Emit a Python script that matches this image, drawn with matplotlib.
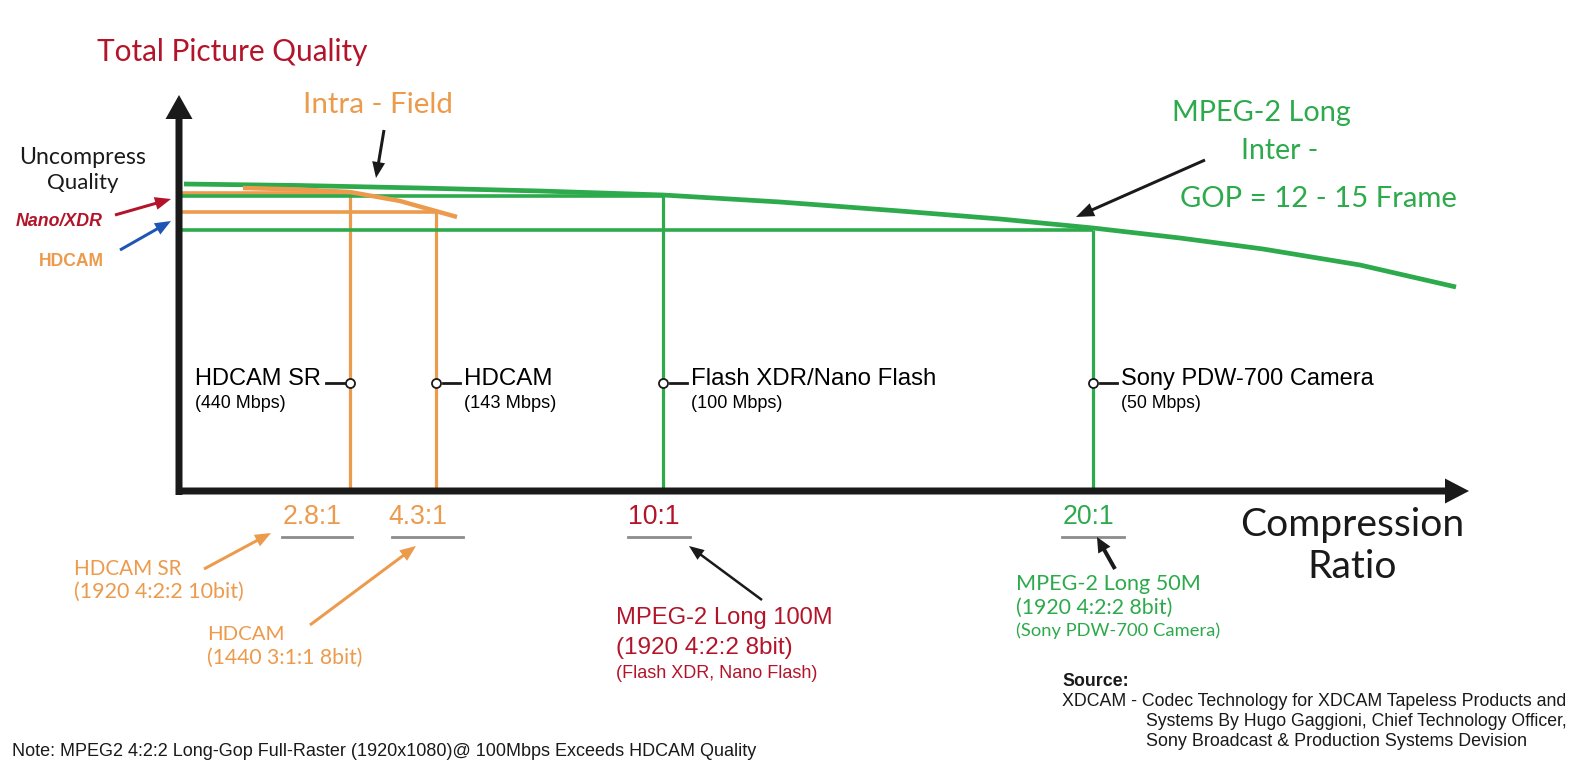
import matplotlib
matplotlib.use("Agg")
import matplotlib.pyplot as plt

# ---------------- data (schematic units: x = distance along compression axis, q = quality height) ----
ratio_labels = ["2.8:1", "4.3:1", "10:1", "20:1"]
codec_names = ["HDCAM SR", "HDCAM", "Flash XDR/Nano Flash", "Sony PDW-700 Camera"]
codec_rates = ["(440 Mbps)", "(143 Mbps)", "(100 Mbps)", "(50 Mbps)"]
codec_pos = [171, 257, 484, 914]          # position on the compression axis
codec_quality = [298, 279, 295, 261]      # picture quality level
codec_family = ["intra", "intra", "gop", "gop"]

gop_x = [5, 121, 241, 361, 484, 601, 721, 821, 914, 1001, 1084, 1181, 1277]
gop_q = [307, 305.5, 303, 300, 296, 289, 280, 272, 263, 253, 242, 226, 204]

intra_x = [64, 121, 171, 221, 278]
intra_q = [303, 301.5, 299, 290, 274]

ORANGE = "#EC9A4C"
GREEN = "#2DAA4C"
RED = "#B3142A"
BLUE = "#1F56B5"
GRAY = "#8C8C8C"
BLACK = "#1A1A1A"
fam_color = {"intra": ORANGE, "gop": GREEN}
ratio_colors = [ORANGE, ORANGE, RED, GREEN]

GEO = "Lato"
ARI = "Liberation Sans"

fig = plt.figure(figsize=(15.9, 7.71), dpi=100)
ax = fig.add_axes([0, 0, 1, 1])
ax.set_xlim(-179, 1411)
ax.set_ylim(-280, 491)
ax.axis("off")
renderer = fig.canvas.get_renderer()


def P(px, py):
    return px - 179, 491 - py


def label(px, py, s, width, ha="left", family=ARI, **kw):
    x, y = P(px, py)
    t = ax.text(x, y, s, ha=ha, va="center", fontsize=10, family=family, **kw)
    w = t.get_window_extent(renderer).width
    t.set_fontsize(10 * width / w)
    return t


def arrow(tail, tip, color, width, hw, hl):
    x0, y0 = P(*tail)
    x1, y1 = P(*tip)
    ax.arrow(x0, y0, x1 - x0, y1 - y0, width=width, head_width=hw, head_length=hl,
             length_includes_head=True, color=color, lw=0, zorder=6)


# ---------------- level lines ----------------
for xp, q, fam in zip(codec_pos, codec_quality, codec_family):
    c = fam_color[fam]
    ax.plot([3, xp], [q, q], color=c, lw=2.6, solid_capstyle="butt", zorder=2)
    ax.plot([xp, xp], [0, q], color=c, lw=2.3, solid_capstyle="butt", zorder=2)

# curves
ax.plot(gop_x, gop_q, color=GREEN, lw=3.4, solid_capstyle="butt", solid_joinstyle="round", zorder=3)
ax.plot(intra_x, intra_q, color=ORANGE, lw=3.2, solid_capstyle="butt", solid_joinstyle="round", zorder=3)

# ---------------- axes arrows ----------------
arrow((179, 495), (179, 95), BLACK, 7, 27, 24)
arrow((176, 491), (1469, 491), BLACK, 7, 25, 24)

# ---------------- codec markers and labels ----------------
mark_y = P(0, 383)[1]
for i, (xp, name, rate) in enumerate(zip(codec_pos, codec_names, codec_rates)):
    if i == 0:
        ax.plot([xp - 24, xp - 6], [mark_y, mark_y], color=BLACK, lw=2, zorder=4)
        label(195, 379, name, 126)
        label(195, 404, rate, 90)
    else:
        ax.plot([xp + 7, xp + 24], [mark_y, mark_y], color=BLACK, lw=2, zorder=4)
        lx = xp + 179 + 28
        label(lx, 379, name, {1: 88, 2: 245, 3: 254}[i])
        label(lx, 404, rate, {1: 92, 2: 91, 3: 79}[i])
    ax.plot([xp], [mark_y], marker="o", ms=6.5, mfc="white", mec=BLACK, mew=1.3, zorder=5)

# ---------------- ratio labels ----------------
ratio_cx = [312, 418, 654, 1088]
under = [(282, 352), (392, 463), (628, 690), (1062, 1124)]
base = None
for s, cx, c, (u0, u1) in zip(ratio_labels, ratio_cx, ratio_colors, under):
    t = label(cx, 517, s, 59 if s == "2.8:1" else 10, ha="center", color=c, family=ARI)
    if base is None:
        base = t.get_fontsize()
    t.set_fontsize(base)
    ax.plot([u0 - 179, u1 - 179], [P(0, 537)[1]] * 2, color=GRAY, lw=2, zorder=4)

# ---------------- titles / annotations ----------------
label(97, 52, "Total Picture Quality", 270, family=GEO, color=RED)
label(303, 105, "Intra - Field", 149, family=GEO, color=ORANGE)
label(83, 158, "Uncompress", 127, ha="center", family=GEO, color=BLACK)
label(83, 183, "Quality", 71, ha="center", family=GEO, color=BLACK)
label(16, 222, "Nano/XDR", 87, color=RED, weight="bold", style="italic")
label(39, 262, "HDCAM", 65, color=ORANGE, weight="bold")

label(1261, 113, "MPEG-2 Long", 178, ha="center", family=GEO, color=GREEN)
label(1280, 151, "Inter -", 77, ha="center", family=GEO, color=GREEN)
label(1180, 199, "GOP = 12 - 15 Frame", 276, family=GEO, color=GREEN)

comp = label(1352, 525, "Compression", 225, ha="center", family=GEO, color=BLACK)
ratio_t = label(1352, 567, "Ratio", 10, ha="center", family=GEO, color=BLACK)
ratio_t.set_fontsize(comp.get_fontsize())

label(74, 569, "HDCAM SR", 107, family=GEO, color=ORANGE)
label(74, 592, "(1920 4:2:2 10bit)", 170, family=GEO, color=ORANGE)
label(207, 635, "HDCAM", 77, family=GEO, color=ORANGE)
label(207, 658, "(1440 3:1:1 8bit)", 156, family=GEO, color=ORANGE)

label(616, 618, "MPEG-2 Long 100M", 217, color=RED)
label(616, 648, "(1920 4:2:2 8bit)", 177, color=RED)
label(616, 673, "(Flash XDR, Nano Flash)", 201, color=RED)

label(1016, 584, "MPEG-2 Long 50M", 184, family=GEO, color=GREEN)
label(1016, 608, "(1920 4:2:2 8bit)", 157, family=GEO, color=GREEN)
label(1016, 631, "(Sony PDW-700 Camera)", 204, family=GEO, color=GREEN)

label(12, 752, "Note: MPEG2 4:2:2 Long-Gop Full-Raster (1920x1080)@ 100Mbps Exceeds HDCAM Quality", 743, color=BLACK)

label(1062, 682, "Source:", 66, color=BLACK, weight="bold")
label(1062, 702, "XDCAM - Codec Technology for XDCAM Tapeless Products and", 504, color=BLACK)
label(1146, 721, "Systems By Hugo Gaggioni, Chief Technology Officer,", 423, color=BLACK)
label(1146, 742, "Sony Broadcast & Production Systems Devision", 383, color=BLACK)

# ---------------- pointer arrows ----------------
arrow((115, 215), (171, 199), RED, 3, 13, 16)
arrow((120, 250), (171, 221), BLUE, 3, 13, 16)
arrow((384, 130), (376, 178), BLACK, 3, 13, 16)
arrow((1205, 160), (1076, 217), BLACK, 3, 14, 18)
arrow((204, 569), (271, 533), ORANGE, 3, 13, 16)
arrow((310, 625), (416, 546), ORANGE, 3, 13, 16)
arrow((762, 600), (689, 546), BLACK, 2.5, 12, 15)
arrow((1115, 569), (1097, 537), BLACK, 4, 14, 15)

fig.savefig("out.png", dpi=100, facecolor="white")
